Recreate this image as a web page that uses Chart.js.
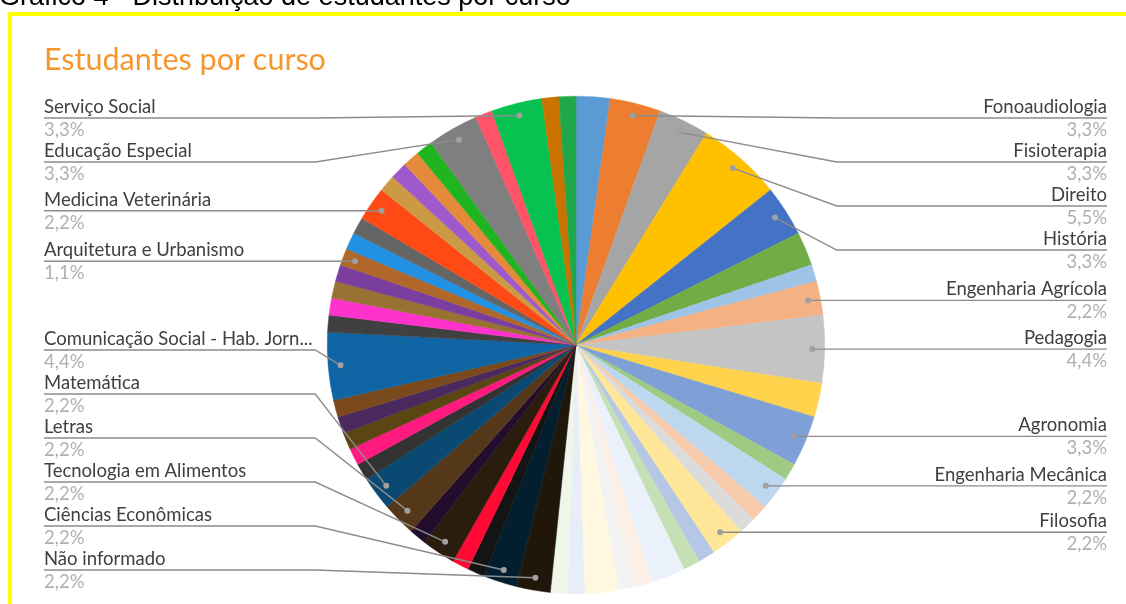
<!DOCTYPE html>
<html lang="pt-BR">
<head>
<meta charset="utf-8">
<title>Estudantes por curso</title>
<script src="https://cdn.jsdelivr.net/npm/chart.js@4.4.1/dist/chart.umd.min.js"></script>
<style>
  html, body { margin: 0; padding: 0; background: #fff; }
  body { width: 1126px; height: 604px; position: relative; overflow: hidden; }
  #moldura { position: absolute; left: 8px; top: 12px; width: 2000px; height: 2000px; border: 4px solid #ffff00; box-sizing: border-box; }
  #grafico { position: absolute; left: 0; top: 0; }
</style>
</head>
<body>
<div id="moldura"></div>
<canvas id="grafico" width="1126" height="604"></canvas>
<script>
// === DONNÉES ===
const LEGENDA = "Gráfico 4 - Distribuição de estudantes por curso";
const TITULO = "Estudantes por curso";

// cursos na ordem das fatias (sentido horário a partir do topo); '' = fatia sem rótulo
const CURSOS = [
  "", "Fonoaudiologia", "Fisioterapia", "Direito", "História", "", "", "Engenharia Agrícola",
  "Pedagogia", "", "Agronomia", "", "Engenharia Mecânica", "", "", "Filosofia",
  "", "", "", "", "", "", "", "",
  "Não informado", "Ciências Econômicas", "", "", "Tecnologia em Alimentos", "", "Letras", "Matemática",
  "", "", "", "", "", "Comunicação Social - Hab. Jorn...", "", "",
  "", "", "Arquitetura e Urbanismo", "", "", "Medicina Veterinária", "", "",
  "", "", "Educação Especial", "", "Serviço Social", "", ""
];

// número de estudantes por fatia
const ESTUDANTES = [
  2, 3, 3, 5, 3, 2, 1, 2,
  4, 2, 3, 1, 2, 1, 1, 2,
  1, 1, 2, 1, 1, 2, 1, 1,
  2, 2, 1, 1, 2, 1, 2, 2,
  1, 1, 1, 1, 1, 4, 1, 1,
  1, 1, 1, 1, 1, 2, 1, 1,
  1, 1, 3, 1, 3, 1, 1
];

const CORES = [
  "#5B9BD5", "#ED7D31", "#A5A5A5", "#FFC000", "#4472C4", "#70AD47", "#9DC3E6", "#F4B183",
  "#C4C4C4", "#FFD34C", "#7F9FD7", "#9FCA82", "#BDD7EE", "#F8CBAD", "#DBDBDB", "#FFE699",
  "#B4C7E7", "#C5E0B4", "#EBF1FA", "#FCEFE5", "#F3F3F3", "#FFF7E0", "#E7EEF8", "#EFF6EA",
  "#21160A", "#031E2F", "#141414", "#FF0A35", "#2A1D0E", "#220E2C", "#55381A", "#0A4A72",
  "#333333", "#FF1A80", "#5A4513", "#4A2A5E", "#7A4A1D", "#1065A5", "#404040", "#FF33CC",
  "#987233", "#7A3F9E", "#B0672A", "#2091E3", "#656565", "#FF4A16", "#CC9A45", "#9E5ACB",
  "#E58A3A", "#20B520", "#7F7F7F", "#FF5468", "#07C251", "#C97200", "#1EA84A"
];

const FONTE = "Lato, 'Open Sans', sans-serif";

// distribui as linhas dos rótulos sem sobreposição
function distribuir(itens, topo, base, passo) {
  itens.sort((a, b) => a.py - b.py);
  itens.forEach((it, i) => {
    it.ly = i === 0 ? Math.max(it.py, topo) : Math.max(it.py, itens[i - 1].ly + passo);
  });
  for (let i = itens.length - 1; i >= 0; i--) {
    const it = itens[i];
    it.ly = i === itens.length - 1 ? Math.min(it.ly, base) : Math.min(it.ly, itens[i + 1].ly - passo);
  }
}

const rotulosPlugin = {
  id: "rotulos",
  afterDraw(chart) {
    const ctx = chart.ctx;
    const arcs = chart.getDatasetMeta(0).data;
    const total = ESTUDANTES.reduce((a, b) => a + b, 0);
    const esquerda = [], direita = [];
    arcs.forEach((arc, i) => {
      if (!CURSOS[i]) return;
      const meio = (arc.startAngle + arc.endAngle) / 2;
      const r = arc.outerRadius * 0.95;
      const item = {
        nome: CURSOS[i],
        pct: (ESTUDANTES[i] / total * 100).toFixed(1).replace(".", ",") + "%",
        px: arc.x + Math.cos(meio) * r,
        py: arc.y + Math.sin(meio) * r
      };
      (Math.cos(meio) >= 0 ? direita : esquerda).push(item);
    });

    const a = arcs[0];
    const joelhoEsq = a.x - a.outerRadius - 12;
    const joelhoDir = a.x + a.outerRadius + 12;
    const xEsq = 44, xDir = 1107;
    distribuir(esquerda, 118, 570, 44);
    distribuir(direita, 118, 570, 44);

    ctx.save();
    // linhas de chamada
    ctx.strokeStyle = "#8C8C8C";
    ctx.lineWidth = 1.4;
    esquerda.forEach(it => {
      ctx.beginPath();
      ctx.moveTo(it.px, it.py);
      ctx.lineTo(Math.min(joelhoEsq, it.px), it.ly);
      ctx.lineTo(xEsq, it.ly);
      ctx.stroke();
    });
    direita.forEach(it => {
      ctx.beginPath();
      ctx.moveTo(it.px, it.py);
      ctx.lineTo(Math.max(joelhoDir, it.px), it.ly);
      ctx.lineTo(xDir, it.ly);
      ctx.stroke();
    });
    // pontos
    ctx.fillStyle = "#A0A0A0";
    esquerda.concat(direita).forEach(it => {
      ctx.beginPath();
      ctx.arc(it.px, it.py, 3, 0, Math.PI * 2);
      ctx.fill();
    });
    // textos
    ctx.font = "18.5px " + FONTE;
    ctx.textBaseline = "alphabetic";
    const escrever = (lista, x, alinh) => {
      ctx.textAlign = alinh;
      lista.forEach(it => {
        ctx.fillStyle = "#404040";
        ctx.fillText(it.nome, x, it.ly - 5);
        ctx.fillStyle = "#B0B0B0";
        ctx.fillText(it.pct, x, it.ly + 18);
      });
    };
    escrever(esquerda, xEsq, "left");
    escrever(direita, xDir, "right");

    // título e legenda
    ctx.textAlign = "left";
    ctx.fillStyle = "#F6962E";
    ctx.font = "30.5px " + FONTE;
    ctx.fillText(TITULO, 44, 70);
    ctx.fillStyle = "#000";
    ctx.font = "27px 'Liberation Sans', Arial, sans-serif";
    ctx.fillText(LEGENDA, -1, 5);
    ctx.restore();
  }
};

document.addEventListener("DOMContentLoaded", () => {
  const ctx = document.getElementById("grafico").getContext("2d");
  new Chart(ctx, {
    type: "pie",
    data: {
      labels: CURSOS,
      datasets: [{
        data: ESTUDANTES,
        backgroundColor: CORES,
        borderColor: CORES,
        borderWidth: 0.5
      }]
    },
    options: {
      responsive: false,
      animation: false,
      layout: { padding: { top: 96, bottom: 10, left: 300, right: 274 } },
      plugins: {
        legend: { display: false },
        tooltip: { enabled: false },
        title: { display: false }
      }
    },
    plugins: [rotulosPlugin]
  });
});
</script>
</body>
</html>
